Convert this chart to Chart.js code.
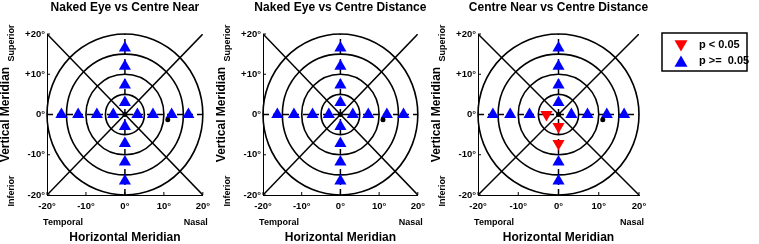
<!DOCTYPE html>
<html>
<head>
<meta charset="utf-8">
<script src="https://cdn.jsdelivr.net/npm/chart.js@4.4.1/dist/chart.umd.min.js"></script>
<style>
  body { margin: 0; background: #fff; width: 759px; height: 244px; position: relative; overflow: hidden; }
  .panel { position: absolute; top: 0; height: 244px; }
</style>
</head>
<body>
<div class="panel" style="left:0px;width:216px"><canvas id="c0" width="216" height="244"></canvas></div>
<div class="panel" style="left:216px;width:215px"><canvas id="c1" width="215" height="244"></canvas></div>
<div class="panel" style="left:431px;width:328px"><canvas id="c2" width="328" height="244"></canvas></div>
<script>
// panel titles
const titles = ['Naked Eye vs Centre Near', 'Naked Eye vs Centre Distance', 'Centre Near vs Centre Distance'];

// axes
const tickValues = [-20, -10, 0, 10, 20];
const xTickLabels = ['-20°', '-10°', '0°', '10°', '20°'];
const yTickLabels = ['-20°', '-10°', '0°', '+10°', '+20°'];
const ringRadii = [5, 10, 15, 20];

// test locations (deg): 8 on horizontal meridian, 8 on vertical meridian
const testX = [-16.3, -12, -7.2, -3, 3.2, 7.2, 12, 16.3, 0, 0, 0, 0, 0, 0, 0, 0];
const testY = [0, 0, 0, 0, 0, 0, 0, 0, 16.5, 12, 7.3, 3, -3, -7.2, -11.8, -16.5];

// 1 = p < 0.05
const sigNakedNear = [0, 0, 0, 0, 0, 0, 0, 0, 0, 0, 0, 0, 0, 0, 0, 0];
const sigNakedDist = [0, 0, 0, 0, 0, 0, 0, 0, 0, 0, 0, 0, 0, 0, 0, 0];
const sigNearDist  = [0, 0, 0, 1, 0, 0, 0, 0, 0, 0, 0, 0, 1, 1, 0, 0];
const sigSets = [sigNakedNear, sigNakedDist, sigNearDist];

// fixation + blind spot dots
const dotX = [0, 11];
const dotY = [0, -1.3];

// guide lines
const diagAX = [-20, 20], diagAY = [20, -20];
const diagBX = [-20, 20], diagBY = [-20, 20];
const hMerX = [-20, 20], hMerY = [0, 0];
const vMerX = [0, 0], vMerY = [-20, 20];

const legendLabels = ['p < 0.05', 'p >=  0.05'];

const FONT = '"Liberation Sans", Arial, sans-serif';
const RED = '#ff0000';
const BLUE = '#0000ff';

const pts = (xs, ys) => xs.map((x, i) => ({ x: x, y: ys[i] }));

const lineSet = (xs, ys, dash) => ({
  data: pts(xs, ys),
  showLine: true,
  borderColor: '#000',
  borderWidth: 1.5,
  borderDash: dash,
  pointRadius: 0,
  order: 5
});

// rings, title, side labels, inner ticks, legend
const decor = {
  id: 'decor',
  beforeDatasetsDraw(chart) {
    const { ctx, scales: { x, y } } = chart;
    const cx = x.getPixelForValue(0), cy = y.getPixelForValue(0);
    ctx.save();
    ctx.strokeStyle = '#000';
    ctx.lineWidth = 1.6;
    ringRadii.forEach(r => {
      const rx = x.getPixelForValue(r) - cx;
      const ry = cy - y.getPixelForValue(r);
      ctx.beginPath();
      ctx.ellipse(cx, cy, rx, ry, 0, 0, Math.PI * 2);
      ctx.stroke();
    });
    ctx.restore();
  },
  afterDraw(chart, args, opts) {
    const { ctx, chartArea: a, scales: { x, y } } = chart;
    ctx.save();
    ctx.fillStyle = '#000';
    ctx.textAlign = 'center';
    ctx.textBaseline = 'middle';
    ctx.font = 'bold 12px ' + FONT;
    ctx.fillText(opts.title, (a.left + a.right) / 2, 8);

    ctx.font = 'bold 9px ' + FONT;
    ctx.fillText('Temporal', a.left + 16, 223);
    ctx.fillText('Nasal', a.right - 7, 223);
    ctx.save();
    ctx.translate(a.left - 35, a.top + 9);
    ctx.rotate(-Math.PI / 2);
    ctx.fillText('Superior', 0, 0);
    ctx.restore();
    ctx.save();
    ctx.translate(a.left - 35, a.bottom - 4);
    ctx.rotate(-Math.PI / 2);
    ctx.fillText('Inferior', 0, 0);
    ctx.restore();

    // inward tick marks
    ctx.strokeStyle = '#000';
    ctx.lineWidth = 1;
    tickValues.forEach(v => {
      const px = x.getPixelForValue(v), py = y.getPixelForValue(v);
      ctx.beginPath();
      ctx.moveTo(px, a.bottom);
      ctx.lineTo(px, a.bottom - 3);
      ctx.moveTo(a.left, py);
      ctx.lineTo(a.left + 3, py);
      ctx.stroke();
    });

    if (opts.legend) {
      const bx = a.right + 23, by = 33, bw = 85, bh = 38;
      ctx.lineWidth = 1.5;
      ctx.strokeRect(bx, by, bw, bh);
      const styles = [
        { pointStyle: 'triangle', radius: 7.5, rotation: 180, backgroundColor: RED, borderColor: RED, borderWidth: 0 },
        { pointStyle: 'triangle', radius: 7.5, rotation: 0, backgroundColor: BLUE, borderColor: BLUE, borderWidth: 0 }
      ];
      ctx.font = 'bold 11px ' + FONT;
      ctx.textAlign = 'left';
      legendLabels.forEach((lab, i) => {
        const ly = by + 12 + i * 16;
        ctx.fillStyle = styles[i].backgroundColor;
        Chart.helpers.drawPoint(ctx, styles[i], bx + 19, ly + (i === 0 ? -1 : 2));
        ctx.fillStyle = '#000';
        ctx.fillText(lab, bx + 37, ly);
      });
    }
    ctx.restore();
  }
};

function makePanel(idx) {
  const canvas = document.getElementById('c' + idx);
  const sig = sigSets[idx];
  const sigPts = [], nsPts = [];
  testX.forEach((tx, i) => {
    (sig[i] ? sigPts : nsPts).push({ x: tx, y: testY[i] });
  });
  const rightPad = canvas.width - 208;

  new Chart(canvas, {
    type: 'scatter',
    data: {
      datasets: [
        { data: pts(dotX, dotY), pointRadius: 2.5, backgroundColor: '#000', borderWidth: 0, order: -1 },
        { label: legendLabels[0], data: sigPts, pointStyle: 'triangle', rotation: 180, pointRadius: 7,
          backgroundColor: RED, borderColor: RED, borderWidth: 0, order: 0 },
        { label: legendLabels[1], data: nsPts, pointStyle: 'triangle', pointRadius: 7,
          backgroundColor: BLUE, borderColor: BLUE, borderWidth: 0, order: 0 },
        lineSet(diagAX, diagAY, []),
        lineSet(diagBX, diagBY, []),
        lineSet(hMerX, hMerY, [6, 4]),
        lineSet(vMerX, vMerY, [6, 4])
      ]
    },
    options: {
      responsive: false,
      animation: false,
      layout: { padding: { top: 34, right: rightPad, left: 0, bottom: 0 } },
      plugins: {
        legend: { display: false },
        tooltip: { enabled: false },
        decor: { title: titles[idx], legend: idx === 2 }
      },
      scales: {
        x: {
          type: 'linear', min: -20, max: 20,
          afterFit: s => { s.height = 49; },
          afterBuildTicks: s => { s.ticks = tickValues.map(v => ({ value: v })); },
          grid: { display: false, drawTicks: false },
          border: { display: true, color: '#000', width: 1 },
          ticks: {
            padding: 6, color: '#000', font: { family: FONT, size: 9.5, weight: 'bold' },
            callback: v => xTickLabels[tickValues.indexOf(v)]
          },
          title: { display: true, text: 'Horizontal Meridian', color: '#000',
            font: { family: FONT, size: 12, weight: 'bold', lineHeight: 1 }, padding: 0 }
        },
        y: {
          type: 'linear', min: -20, max: 20,
          afterFit: s => { s.width = 47; },
          afterBuildTicks: s => { s.ticks = tickValues.map(v => ({ value: v })); },
          grid: { display: false, drawTicks: false },
          border: { display: true, color: '#000', width: 1 },
          ticks: {
            padding: 2, color: '#000', font: { family: FONT, size: 9.5, weight: 'bold' },
            callback: v => yTickLabels[tickValues.indexOf(v)]
          },
          title: { display: true, text: 'Vertical Meridian', color: '#000',
            font: { family: FONT, size: 12, weight: 'bold', lineHeight: 1 }, padding: { top: 0, bottom: 0 } }
        }
      }
    },
    plugins: [decor]
  });
}

[0, 1, 2].forEach(makePanel);
</script>
</body>
</html>
